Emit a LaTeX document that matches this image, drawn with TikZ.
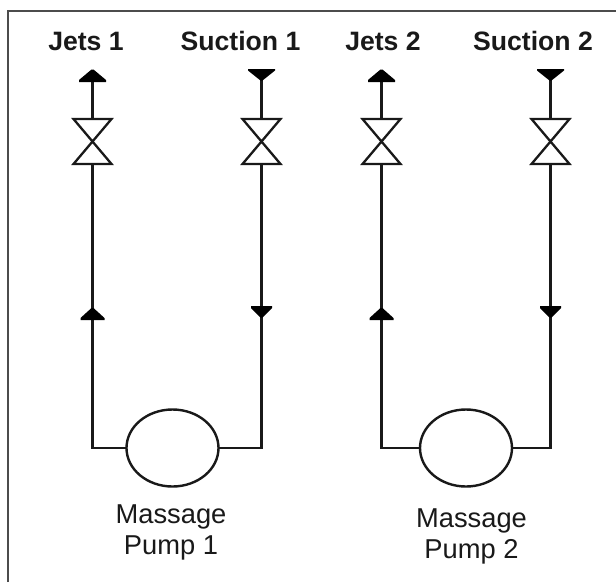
\documentclass[tikz,border=0pt]{standalone}
\usepackage{fontspec}
\setmainfont{Liberation Sans}
\usetikzlibrary{shapes.geometric}
\tikzset{
  x=1pt,y=-1pt,
  pipe/.style={line width=2.6pt,black!90,line join=miter},
  frameline/.style={line width=1.6pt,black!70},
  tagtext/.style={font=\fontsize{26.6}{26.6}\bfseries\selectfont,anchor=base,inner sep=0pt,text=black!90},
  pumptext/.style={font=\fontsize{27.3}{31}\selectfont,anchor=base,align=center,inner sep=0pt,text=black!90},
  pumpbody/.style={ellipse,draw=black!90,line width=2.4pt,minimum width=92pt,minimum height=77pt,inner sep=0pt,outer sep=0pt},
  valve/.pic={
    \draw[line width=2.3pt,black!90,line join=miter] (-19,-22.5) -- (19,-22.5) -- (-19,22.5) -- (19,22.5) -- cycle;
    \coordinate (-top) at (0,-22.5);
    \coordinate (-bot) at (0,22.5);
  },
  uptip/.pic={\fill[black] (-13.5,0) -- (13.5,0) -- (13.5,-2) -- (1,-12.5) -- (-1,-12.5) -- (-13.5,-2) -- cycle;},
  downtip/.pic={\fill[black] (-13.5,0) -- (13.5,0) -- (13.5,1.5) -- (1,11.5) -- (-1,11.5) -- (-13.5,1.5) -- cycle;},
  upsmall/.pic={\fill[black] (-12,0) -- (12,0) -- (12,-2) -- (1,-12) -- (-1,-12) -- (-12,-2) -- cycle;},
  downsmall/.pic={\fill[black] (-10.5,0) -- (10.5,0) -- (10.5,2) -- (1,11.5) -- (-1,11.5) -- (-10.5,2) -- cycle;}
}
\begin{document}
\begin{tikzpicture}
\useasboundingbox (0,0) rectangle (616,582);
\fill[white] (0,0) rectangle (616,582);
\coordinate (frameBL) at (8,582);
\coordinate (frameTL) at (8,11);
\coordinate (frameTR) at (616,11);
\draw[frameline] (frameBL) -- (frameTL) -- (frameTR);

\node[tagtext] (jets1) at (86,50) {Jets 1};
\node[tagtext] (suction1) at (240.5,50) {Suction 1};
\node[tagtext] (jets2) at (383,50) {Jets 2};
\node[tagtext] (suction2) at (533,50) {Suction 2};

\node[pumpbody] (pump1) at (172.5,448) {};
\node[pumpbody] (pump2) at (466,448) {};
\node[pumptext] (label1) at (171,554) {Massage\\Pump 1};
\node[pumptext] (label2) at (471.5,558) {Massage\\Pump 2};

% pump 1
\coordinate (a1) at (92.5,82);
\coordinate (b1) at (261.5,69);
\coordinate (c1) at (92.5,320);
\coordinate (d1) at (261.5,306);
\pic (va1) at (92.5,141.5) {valve};
\pic (vb1) at (261.5,141.5) {valve};
\draw[pipe] (a1) -- (va1-top);
\draw[pipe] (b1) -- (vb1-top);
\draw[pipe] (va1-bot) -- (c1) -- (c1 |- pump1.west) -- (pump1.west);
\draw[pipe] (vb1-bot) -- (d1) -- (d1 |- pump1.east) -- (pump1.east);
\pic at (a1) {uptip};
\pic at (b1) {downtip};
\pic at (c1) {upsmall};
\pic at (d1) {downsmall};

% pump 2
\coordinate (a2) at (381.5,82);
\coordinate (b2) at (550.5,69);
\coordinate (c2) at (381.5,320);
\coordinate (d2) at (550.5,306);
\pic (va2) at (381.5,141.5) {valve};
\pic (vb2) at (550.5,141.5) {valve};
\draw[pipe] (a2) -- (va2-top);
\draw[pipe] (b2) -- (vb2-top);
\draw[pipe] (va2-bot) -- (c2) -- (c2 |- pump2.west) -- (pump2.west);
\draw[pipe] (vb2-bot) -- (d2) -- (d2 |- pump2.east) -- (pump2.east);
\pic at (a2) {uptip};
\pic at (b2) {downtip};
\pic at (c2) {upsmall};
\pic at (d2) {downsmall};
\end{tikzpicture}
\end{document}
